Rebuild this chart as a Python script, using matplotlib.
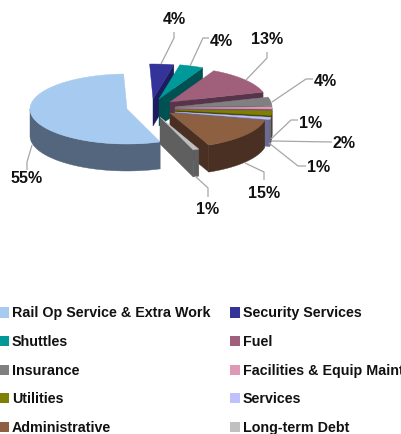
import numpy as np
import matplotlib
matplotlib.use("Agg")
import matplotlib.pyplot as plt
from matplotlib.patches import Polygon, Patch

plt.rcParams['font.family'] = ['Liberation Sans', 'DejaVu Sans']

categories = ["Rail Op Service & Extra Work", "Security Services", "Shuttles", "Fuel",
              "Insurance", "Facilities & Equip Maint", "Utilities", "Services",
              "Administrative", "Long-term Debt"]
values = [55, 4, 4, 13, 4, 1, 2, 1, 15, 1]
labels = ["55%", "4%", "4%", "13%", "4%", "1%", "2%", "1%", "15%", "1%"]

top_colors = ["#a6caf0", "#333399", "#009999", "#a0607c", "#808080",
              "#dd99b5", "#808000", "#c0c0ff", "#8c6040", "#c0c0c0"]
wall_colors = ["#54667d", "#1c1c5e", "#005252", "#57344a", "#5c5c5c",
               "#7a5566", "#4a4a10", "#6b6b96", "#4a3022", "#5f5f5f"]

# Layout of the exploded 3-D pie, in pixels
RX, RY, DEPTH = 97, 35, 27
APEX = [(127, 109), (153, 99), (159, 99), (170, 102), (175, 107),
        (175, 108), (175, 110), (175, 112), (170, 113), (160, 117)]
START = 160.0  # Rail begins here, clockwise from 12 o'clock
LABEL_POS = [(27, 178.5), (174, 19), (221, 41), (267, 39), (325, 81),
             (311, 123), (344, 143), (319, 168), (264, 194), (208, 210)]
LEADERS = [[(27, 170), (27, 162), (32, 145)],
           [(174, 32), (174, 38), (161, 64)],
           [(209, 38), (203, 38), (190, 66)],
           [(267, 52), (267, 58), (246, 80)],
           [(313, 79), (306, 79), (272, 102)],
           [(298, 120), (291, 120), (271, 139)],
           [(332, 142), (271, 141)],
           [(306, 166), (298, 166), (269, 143)],
           [(264, 180), (264, 172), (245, 163)],
           [(208, 197), (208, 188), (195, 176)]]

fig = plt.figure(figsize=(4.02, 4.34), dpi=100)
ax = fig.add_axes([0, 0, 1, 1])
ax.set_xlim(0, 402)
ax.set_ylim(434, 0)
ax.axis("off")

spans = np.array(values) / sum(values) * 360
starts = (START + np.concatenate([[0], np.cumsum(spans)[:-1]]))
ends = starts + spans


def rim(i, a, b):
    th = np.radians(np.linspace(a, b, max(int(abs(b - a)) * 2, 2)))
    return APEX[i][0] + RX * np.sin(th), APEX[i][1] - RY * np.cos(th)


# Painter's order: back slices first; Rail is independent at the left
for z, i in enumerate(range(len(values))):
    a, b = starts[i], ends[i]
    # outer wall: only the part of the rim that faces the viewer
    for lo, hi in [(90, 270), (450, 630)]:
        aa, bb = max(a, lo), min(b, hi)
        if bb > aa:
            x, y = rim(i, aa, bb)
            pts = np.r_[np.c_[x, y], np.c_[x[::-1], y[::-1] + DEPTH]]
            ax.add_patch(Polygon(pts, closed=True, fc=wall_colors[i], ec=wall_colors[i],
                                 lw=0.3, zorder=z * 3 + 1))
    # cut wall at the clockwise end of the slice
    if i != 0:
        x, y = rim(i, b, b)
        ex, ey = x[0], y[0]
        px, py = APEX[i]
        ax.add_patch(Polygon([(px, py), (ex, ey), (ex, ey + DEPTH), (px, py + DEPTH)],
                             closed=True, fc=wall_colors[i], ec=wall_colors[i],
                             lw=0.3, zorder=z * 3 + 2))
    # top face
    x, y = rim(i, a, b)
    pts = np.r_[[APEX[i]], np.c_[x, y]]
    ax.add_patch(Polygon(pts, closed=True, fc=top_colors[i], ec=top_colors[i],
                         lw=0.3, zorder=z * 3 + 3))

for i, lab in enumerate(labels):
    xs, ys = zip(*LEADERS[i])
    ax.plot(xs, ys, color="#a6a6a6", lw=0.9, zorder=50, solid_capstyle="butt")
    ax.text(*LABEL_POS[i], lab, ha="center", va="center", fontsize=11.5,
            fontweight="bold", color="#111111", zorder=60)

handles = [Patch(fc=c, ec="none", label=n) for c, n in zip(top_colors, categories)]
ordered = handles[0::2] + handles[1::2]
ax.legend(handles=ordered, ncol=2, frameon=False, loc="upper left",
          bbox_to_anchor=(-1, 306.5), bbox_transform=ax.transData,
          borderpad=0, borderaxespad=0, handlelength=0.7, handleheight=0.7,
          handletextpad=0.2, labelspacing=1.02, columnspacing=1.35,
          prop={"size": 10.3, "weight": "bold"}, labelcolor="#111111")

fig.savefig("out.png", dpi=100)
